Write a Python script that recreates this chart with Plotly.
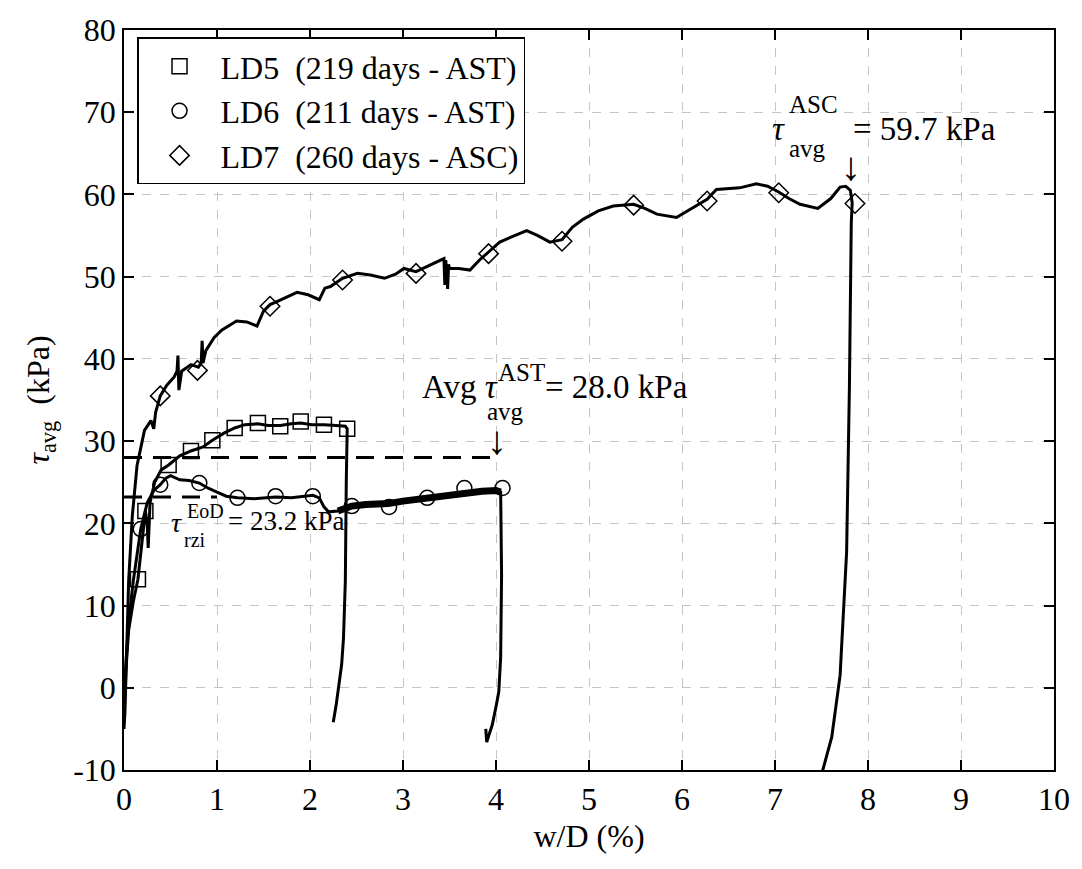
import plotly.graph_objects as go

# ---------------- data ----------------
# LD7 (260 days - ASC): full curve (loading + unloading)
ld7_x = [0.00, 0.01, 0.03, 0.05, 0.09, 0.14, 0.22, 0.29, 0.32, 0.34, 0.39, 0.46, 0.54, 0.57,
         0.58, 0.59, 0.62, 0.72, 0.80, 0.83, 0.84, 0.85, 0.88, 0.97, 1.05, 1.21, 1.32, 1.43,
         1.50, 1.57, 1.65, 1.72, 1.86, 1.98, 2.10, 2.16, 2.22, 2.35, 2.51, 2.65, 2.80, 2.92,
         3.01, 3.14, 3.30, 3.44, 3.45, 3.46, 3.48, 3.49, 3.50, 3.60, 3.72, 3.82, 3.92, 4.04,
         4.20, 4.33, 4.45, 4.58, 4.71, 4.82, 4.94, 5.10, 5.26, 5.48, 5.60, 5.73, 5.94, 6.12,
         6.27, 6.37, 6.50, 6.62, 6.80, 6.92, 7.04, 7.15, 7.27, 7.46, 7.60, 7.70, 7.76, 7.81,
         7.83, 7.82, 7.80, 7.77, 7.70, 7.61, 7.49]
ld7_y = [-5.0, -3.0, 5.0, 13.0, 21.0, 27.0, 31.3, 32.5, 31.5, 33.5, 35.5, 36.8, 37.8, 38.5,
         40.4, 36.2, 38.5, 39.3, 39.0, 39.5, 42.2, 39.5, 41.0, 42.6, 43.5, 44.6, 44.5, 44.0,
         45.8, 46.6, 47.0, 47.4, 48.1, 47.8, 47.2, 48.6, 48.8, 49.8, 50.4, 50.2, 49.8, 50.3,
         51.0, 50.6, 51.5, 52.2, 49.0, 52.0, 48.5, 51.5, 51.0, 51.0, 50.8, 52.0, 53.0, 54.2,
         55.0, 55.6, 55.0, 54.2, 54.5, 56.0, 57.0, 58.0, 58.6, 58.8, 58.3, 57.6, 57.2, 58.4,
         59.4, 60.6, 60.7, 60.8, 61.3, 61.0, 60.3, 59.5, 58.8, 58.3, 59.5, 60.9, 61.0, 60.5,
         59.0, 56.5, 36.5, 16.5, 1.5, -6.0, -11.0]
ld7_mx = [0.39, 0.79, 1.57, 2.35, 3.14, 3.92, 4.71, 5.48, 6.27, 7.04, 7.86]
ld7_my = [35.5, 38.6, 46.4, 49.6, 50.4, 52.8, 54.3, 58.7, 59.2, 60.2, 58.9]

# LD5 (219 days - AST)
ld5_x = [0.00, 0.02, 0.05, 0.10, 0.15, 0.20, 0.23, 0.25, 0.26, 0.28, 0.33, 0.40, 0.48, 0.60,
         0.72, 0.85, 0.95, 1.08, 1.19, 1.30, 1.44, 1.55, 1.68, 1.80, 1.90, 2.02, 2.15, 2.28,
         2.38, 2.40, 2.39, 2.38, 2.36, 2.34, 2.31, 2.28, 2.25]
ld5_y = [-4.0, 2.0, 7.0, 10.5, 13.2, 18.0, 21.5, 20.0, 17.0, 22.5, 25.0, 26.5, 27.1, 28.2,
         28.8, 29.3, 30.1, 31.0, 31.6, 32.0, 32.1, 31.9, 31.9, 32.1, 32.2, 32.0, 32.0, 31.9,
         31.8, 31.5, 25.0, 13.0, 6.0, 2.8, 0.0, -2.2, -4.2]
ld5_mx = [0.15, 0.23, 0.48, 0.72, 0.95, 1.19, 1.44, 1.68, 1.90, 2.15, 2.40]
ld5_my = [13.2, 21.5, 27.1, 28.8, 30.1, 31.6, 32.2, 31.8, 32.4, 32.0, 31.5]

# LD6 (211 days - AST)
ld6_x = [0.00, 0.02, 0.05, 0.10, 0.18, 0.25, 0.32, 0.39, 0.45, 0.50, 0.60, 0.70, 0.81, 0.90,
         1.00, 1.10, 1.22, 1.40, 1.63, 1.80, 2.03, 2.10, 2.15, 2.20, 2.30, 2.45, 2.60, 2.84,
         3.00, 3.26, 3.45, 3.66, 3.85, 4.00, 4.05, 4.06, 4.05, 4.03, 4.00, 3.96, 3.92, 3.90,
         3.89]
ld6_y = [-3.0, 3.0, 8.0, 13.0, 19.3, 22.5, 24.0, 24.7, 25.5, 25.8, 25.3, 25.2, 24.9, 24.3,
         23.8, 23.3, 23.1, 23.0, 23.2, 23.1, 23.4, 23.1, 22.0, 21.4, 21.5, 22.1, 22.3, 22.4,
         22.7, 23.1, 23.4, 23.8, 23.9, 24.0, 23.8, 13.7, 3.7, -0.5, -2.3, -4.5, -5.9, -6.6,
         -5.0]
ld6_mx = [0.18, 0.39, 0.81, 1.22, 1.63, 2.03, 2.45, 2.85, 3.26, 3.66, 4.07]
ld6_my = [19.3, 24.7, 24.9, 23.1, 23.3, 23.3, 22.1, 22.0, 23.1, 24.3, 24.3]

# reference levels
ast_avg = 28.0
ast_x_end = 4.0
eod_rzi = 23.2
eod_x_end = 1.0

legend_names = ["LD5\u00a0\u00a0(219 days - AST)",
                "LD6\u00a0\u00a0(211 days - AST)",
                "LD7\u00a0\u00a0(260 days - ASC)"]
x_ticks = list(range(0, 11))
y_ticks = list(range(-10, 81, 10))
y_tick_text = ["-10", "0", "10", "20", "30", "40", "50", "60", "70", "80"]

FONT = "Liberation Serif"

fig = go.Figure()

# reference dashed lines
fig.add_trace(go.Scatter(x=[0, ast_x_end], y=[ast_avg, ast_avg], mode="lines",
                         line=dict(color="black", width=3, dash="18px,11px"),
                         showlegend=False, hoverinfo="skip"))
fig.add_trace(go.Scatter(x=[0, eod_x_end], y=[eod_rzi, eod_rzi], mode="lines",
                         line=dict(color="black", width=3, dash="18px,11px"),
                         showlegend=False, hoverinfo="skip"))

# curves
for xs, ys in [(ld5_x, ld5_y), (ld6_x, ld6_y), (ld7_x, ld7_y)]:
    fig.add_trace(go.Scatter(x=xs, y=ys, mode="lines",
                             line=dict(color="black", width=3),
                             showlegend=False, hoverinfo="skip"))

# noisy (thick) band of LD6 between ~2.3 and 4.05
band = [(x, y) for x, y in zip(ld6_x[:35], ld6_y[:35]) if x >= 2.3]
fig.add_trace(go.Scatter(x=[p[0] for p in band], y=[p[1] for p in band], mode="lines",
                         line=dict(color="black", width=7),
                         showlegend=False, hoverinfo="skip"))

# markers (legend entries)
for name, mx, my, sym in [(legend_names[0], ld5_mx, ld5_my, "square-open"),
                          (legend_names[1], ld6_mx, ld6_my, "circle-open"),
                          (legend_names[2], ld7_mx, ld7_my, "diamond-open")]:
    fig.add_trace(go.Scatter(x=mx, y=my, mode="markers", name=name,
                             marker=dict(symbol=sym, size=15, color="black",
                                         line=dict(color="black", width=1.5))))

annos = []
def txt(x, y, s, size, xanchor="left", yanchor="middle"):
    annos.append(dict(x=x, y=y, xref="x", yref="y", text=s, showarrow=False,
                      xanchor=xanchor, yanchor=yanchor,
                      font=dict(family=FONT, size=size, color="black")))

# Avg tau_avg^AST = 28.0 kPa
txt(4.04, 36.6, "Avg <i>τ</i>", 33, xanchor="right")
txt(4.00, 38.4, "AST", 25)
txt(3.88, 33.6, "avg", 25)
txt(4.50, 36.6, "= 28.0 kPa", 33)
txt(4.01, 30.1, "↓", 40, xanchor="center")

# tau_avg^ASC = 59.7 kPa
txt(7.13, 68.0, "<i>τ</i>", 33, xanchor="right")
txt(7.13, 71.0, "ASC", 25)
txt(7.13, 65.6, "avg", 25)
txt(7.82, 68.0, "= 59.7 kPa", 33)
txt(7.82, 63.4, "↓", 40, xanchor="center")

# tau_rzi^EoD = 23.2 kPa
txt(0.64, 20.1, "<i>τ</i>", 28, xanchor="right")
txt(0.66, 21.5, "EoD", 20)
txt(0.62, 18.0, "rzi", 20)
txt(1.10, 20.3, "= 23.2 kPa", 27)

axis_common = dict(showline=True, linecolor="black", linewidth=1.5, mirror="ticks",
                   ticks="inside", ticklen=10, tickwidth=1.5, tickcolor="black",
                   showgrid=True, gridcolor="#c4c4c4", gridwidth=1, griddash="dash",
                   zeroline=False, tickfont=dict(family=FONT, size=32, color="black"))

fig.update_layout(
    width=1082, height=869,
    margin=dict(l=124, r=28, t=22, b=99),
    paper_bgcolor="white", plot_bgcolor="white",
    font=dict(family=FONT, color="black"),
    xaxis=dict(range=[0, 10], tickvals=x_ticks,
               title=dict(text="w/D (%)", font=dict(family=FONT, size=32), standoff=8),
               **axis_common),
    yaxis=dict(range=[-10, 80], tickvals=y_ticks, ticktext=y_tick_text,
               title=dict(text="<i>τ</i><sub>avg</sub>  (kPa)", font=dict(family=FONT, size=32),
                          standoff=14),
               **axis_common),
    legend=dict(x=0.014, y=0.99, xanchor="left", yanchor="top",
                bgcolor="white", bordercolor="black", borderwidth=1.5,
                font=dict(family=FONT, size=32, color="black"),
                itemwidth=72, tracegroupgap=0),
    annotations=annos,
    showlegend=True,
)

fig.write_html("out.html")
